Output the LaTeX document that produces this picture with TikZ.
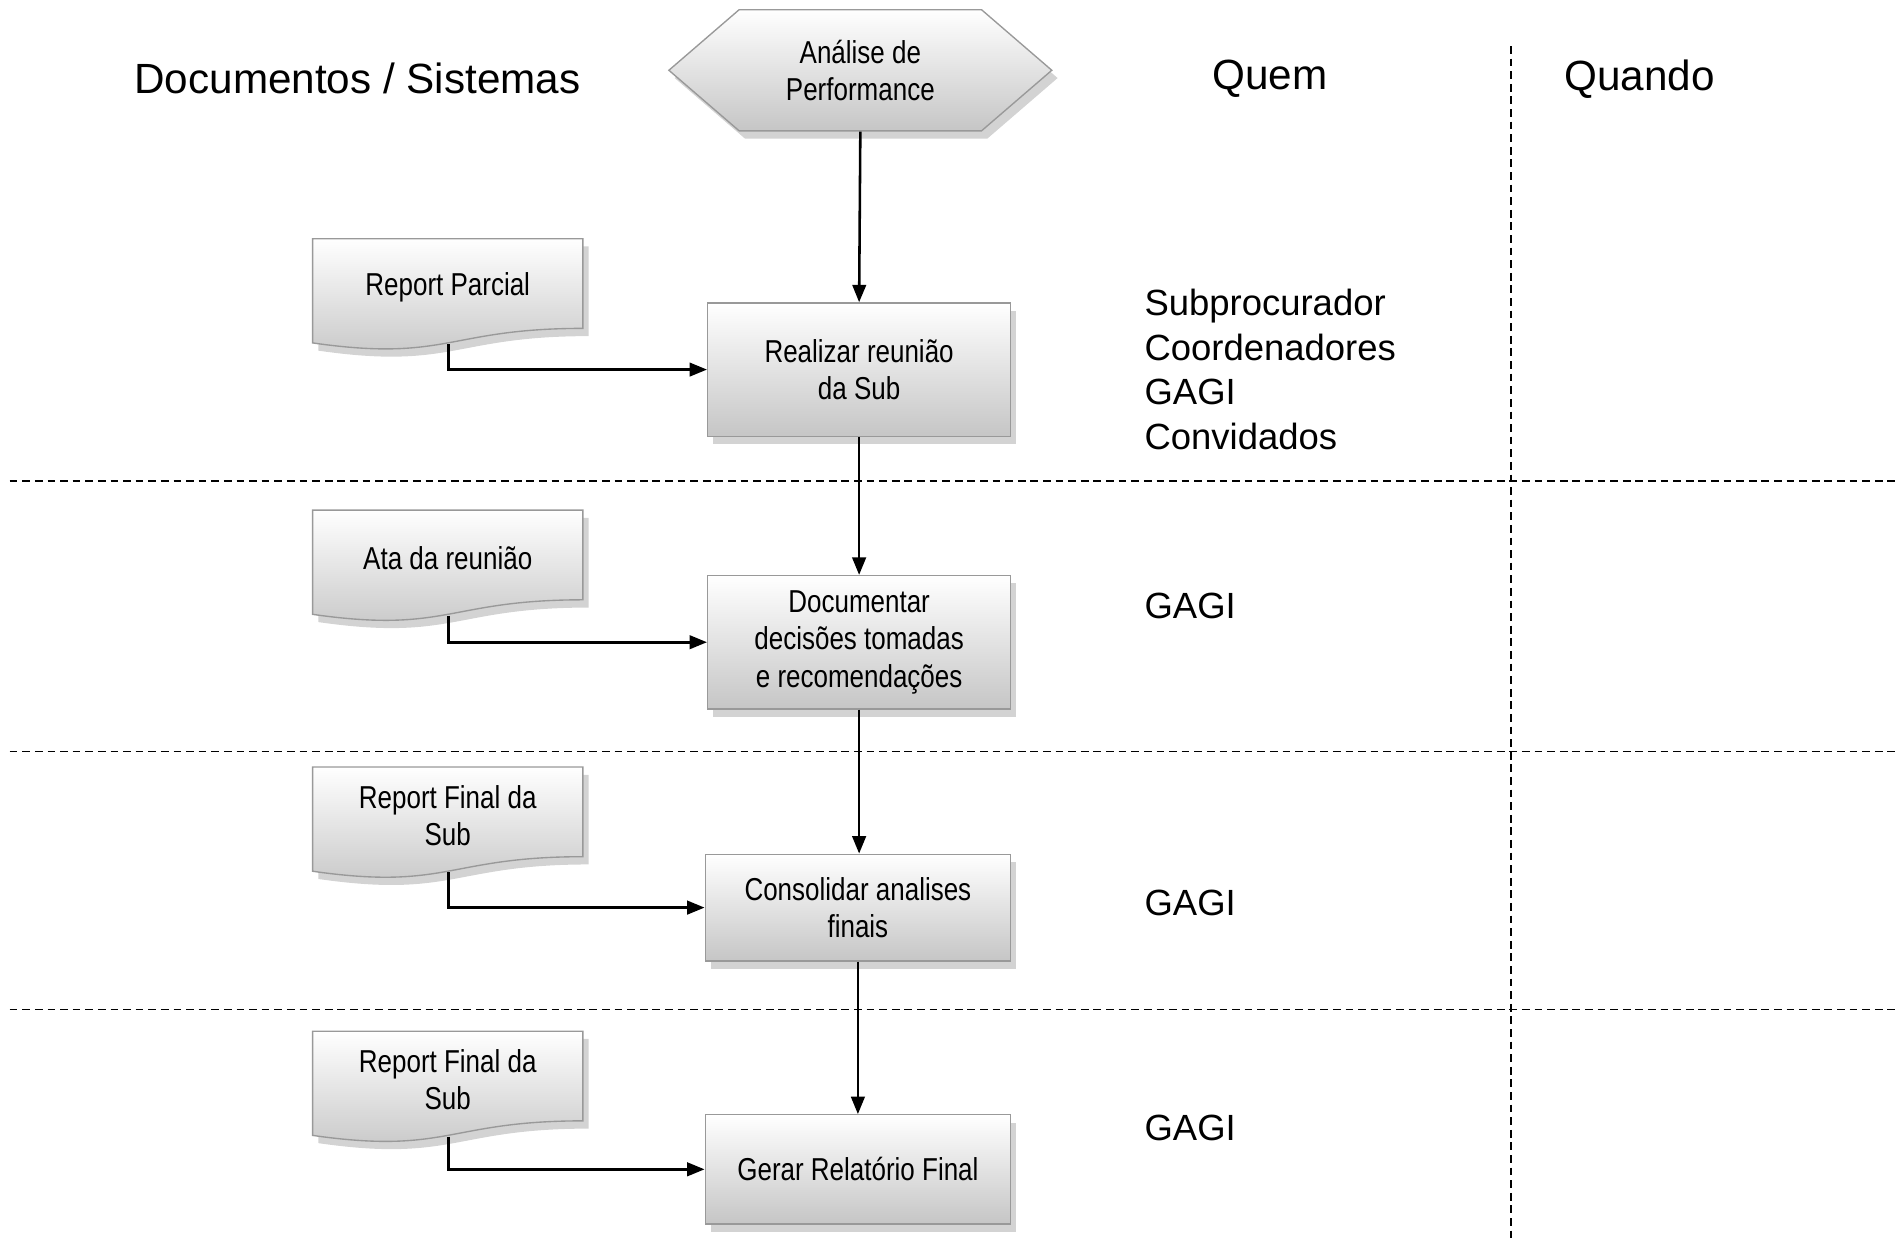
\documentclass[tikz,border=0pt]{standalone}
\usepackage{fontspec}
\setmainfont{Liberation Sans}
\newfontfamily\narrowfont[FakeStretch=0.82]{Liberation Sans}
\usetikzlibrary{shadows,arrows.meta}

\begin{document}
\begin{tikzpicture}[x=0.125mm,y=-0.125mm]

\def\px{0.125mm}
\tikzstyle{flowfill} = [
	draw=gray!80, top color=white, bottom color=gray!45,
	drop shadow={shadow xshift=0.6mm, shadow yshift=-0.8mm, opacity=0.35} ];
\tikzstyle{process} = [
	flowfill, rectangle, minimum width=250*\px, minimum height=110*\px,
	align=center, font=\narrowfont\fontsize{9.3}{11}\selectfont ];
\tikzstyle{doctext} = [align=center, font=\narrowfont\fontsize{9.3}{11}\selectfont];
\tikzstyle{header} = [font=\fontsize{12.4}{15}\selectfont];
\tikzstyle{who} = [anchor=west, inner sep=0pt, align=left, font=\fontsize{10.7}{13.1}\selectfont];
\tikzstyle{flow} = [-{Triangle[length=1.8mm,width=1.4mm]}, line width=0.75pt];
\tikzstyle{lane} = [dash pattern=on 0.8mm off 0.5mm, line width=0.45pt];
\useasboundingbox (0,0) rectangle (1568,1025);

% lanes
\draw[lane] (1247,38) -- (1247,1025);
\foreach \y in {397,620,833}
	\draw[lane] (8,\y) -- (1568,\y);

% column headers
\node[header] (hdoc) at (295,65) {Documentos / Sistemas};
\node[header] (hquem) at (1048,65) {Quem};
\node[header] (hquando) at (1353,65) {Quando};

% start
\path[flowfill] (610,8) -- (810,8) -- (868,58) -- (810,108) -- (610,108) -- (552,58) -- cycle;
\node[doctext, minimum height=100*\px] (analise) at (710,58) {Análise de\\Performance};

% steps
\node[process] (reuniao) at (709,305) {Realizar reunião\\da Sub};
\node[process] (documentar) at (709,530) {Documentar\\decisões tomadas\\e recomendações};
\node[process, minimum width=252*\px, minimum height=88*\px] (consolidar) at (708,749) {Consolidar analises\\finais};
\node[process, minimum width=252*\px, minimum height=90*\px] (gerar) at (708,965) {Gerar Relatório Final};

% documents
\foreach \t/\n/\txt in {197/rp/{Report Parcial}, 421/ata/{Ata da reunião},
		633/rf/{Report Final da\\Sub}, 851/rg/{Report Final da\\Sub}} {
	\path[flowfill] (258,\t) -- (481,\t) -- (481,{\t+74})
		.. controls (369.5,{\t+74}) and (369.5,{\t+102}) .. (258,{\t+86}) -- cycle;
	\node[doctext] (\n) at (369.5,{\t+40}) {\txt};
	\coordinate (\n-b) at (370,{\t+87});
}

% who
\node[who] (q1) at (944,305) {Subprocurador\\Coordenadores\\GAGI\\Convidados};
\node[who] (q2) at (944,500) {GAGI};
\node[who] (q3) at (944,745) {GAGI};
\node[who] (q4) at (944,931) {GAGI};

% connectors
\draw[flow] (analise.south) -- (reuniao.north);
\draw[flow] (reuniao.south) -- (documentar.north);
\draw[flow] (documentar.south) -- (consolidar.north -| documentar.south);
\draw[flow] (consolidar.south) -- (gerar.north);
\draw[flow] (rp-b) |- (reuniao);
\draw[flow] (ata-b) |- (documentar);
\draw[flow] (rf-b) |- (consolidar);
\draw[flow] (rg-b) |- (gerar);

\end{tikzpicture}
\end{document}
